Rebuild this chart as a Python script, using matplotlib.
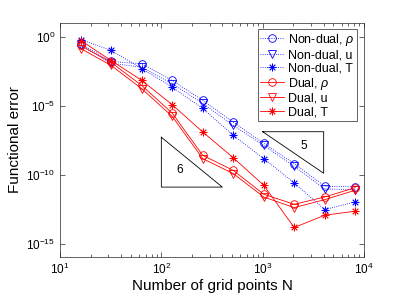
import numpy as np
import matplotlib
matplotlib.use('Agg')
import matplotlib.pyplot as plt
from matplotlib.ticker import NullLocator, LogLocator

plt.rcParams['font.family'] = ['Liberation Sans', 'DejaVu Sans']
plt.rcParams['mathtext.fontset'] = 'custom'
plt.rcParams['mathtext.rm'] = 'Liberation Sans'
plt.rcParams['mathtext.it'] = 'Liberation Sans:italic'

# Data (log10 of functional error)
N = [16, 32, 64, 128, 256, 512, 1024, 2048, 4096, 8192]
nondual_rho = [-0.53, -1.81, -1.98, -3.18, -4.63, -6.20, -7.74, -9.21, -10.85, -10.90]
nondual_u = [-0.65, -1.95, -2.22, -3.42, -4.85, -6.44, -7.89, -9.41, -11.05, -11.09]
nondual_T = [-0.22, -1.01, -2.32, -3.67, -5.21, -7.16, -8.85, -10.61, -12.54, -11.99]
dual_rho = [-0.65, -1.88, -3.55, -5.55, -8.61, -9.70, -11.43, -12.16, -11.63, -10.95]
dual_u = [-0.87, -2.10, -3.78, -5.79, -8.85, -9.93, -11.63, -12.40, -11.82, -11.14]
dual_T = [-0.29, -1.74, -3.18, -4.94, -6.92, -8.78, -10.78, -13.84, -12.95, -12.66]

# slope triangles: (x0, x1, log10 y at top, slope, label)
tri6 = (100, 400, -7.3, 6, '6')
tri5 = (1000, 4000, -6.9, 5, '5')

fig = plt.figure(figsize=(4.02, 3.02), dpi=100)
ax = fig.add_axes([60/402, 1 - 257.3/302, 304/402, 234.6/302])

blue = (0, 0, 1)
red = (1, 0, 0)
star = (8, 2, 0)
series = [
    (nondual_rho, blue, ':', 'o', r'Non-dual, $\rho$'),
    (nondual_u, blue, ':', 'v', 'Non-dual, u'),
    (nondual_T, blue, ':', star, 'Non-dual, T'),
    (dual_rho, red, '-', 'o', r'Dual, $\rho$'),
    (dual_u, red, '-', 'v', 'Dual, u'),
    (dual_T, red, '-', star, 'Dual, T'),
]
for vals, c, ls, m, lab in series:
    ax.plot(N, 10.0**np.array(vals), color=c, linestyle=ls, marker=m,
            markerfacecolor='none', markeredgecolor=c, markersize=5.5,
            linewidth=0.6, markeredgewidth=0.6, label=lab)

# slope triangles
for x0, x1, ytop, s, lab in [tri6]:
    ybot = ytop - s*np.log10(x1/x0)
    ax.plot([x0, x0, x1, x0], [10**ytop, 10**ybot, 10**ybot, 10**ytop], color='k', lw=0.6)
    ax.text(10**(np.log10(x0) + 0.18), 10**(ytop - 2.35), lab, fontsize=8.5, ha='center', va='center')
for x0, x1, ytop, s, lab in [tri5]:
    ybot = ytop - s*np.log10(x1/x0)
    ax.plot([x0, x1, x1, x0], [10**ytop, 10**ytop, 10**ybot, 10**ytop], color='k', lw=0.6)
    ax.text(10**(np.log10(x0) + 0.41), 10**(ytop - 1.0), lab, fontsize=8.5, ha='center', va='center')

ax.set_xscale('log')
ax.set_yscale('log')
ax.set_xlim(10, 1e4)
ax.set_ylim(1e-16, 1e1)
ax.set_yticks([1e-15, 1e-10, 1e-5, 1e0])
ax.yaxis.set_minor_locator(NullLocator())
ax.xaxis.set_minor_locator(LogLocator(base=10, subs=np.arange(2, 10)))

ax.tick_params(which='both', direction='in', top=True, right=True,
               labelsize=8.5, color='0.15', width=0.5)
ax.tick_params(which='major', length=3.5)
ax.tick_params(which='minor', length=2)
for sp in ax.spines.values():
    sp.set_color('0.15')
    sp.set_linewidth(0.5)

ax.set_xlabel('Number of grid points N', fontsize=11, labelpad=1)
ax.set_ylabel('Functional error', fontsize=11, labelpad=3)

leg = ax.legend(loc='upper right', bbox_to_anchor=(0.976, 0.972), fontsize=9,
                frameon=True, fancybox=False, edgecolor='0.15', framealpha=1,
                labelspacing=0.1, handlelength=1.9, handletextpad=0.3,
                borderpad=0.2, borderaxespad=0)
leg.get_frame().set_linewidth(0.5)

fig.savefig('out.png', dpi=100)
